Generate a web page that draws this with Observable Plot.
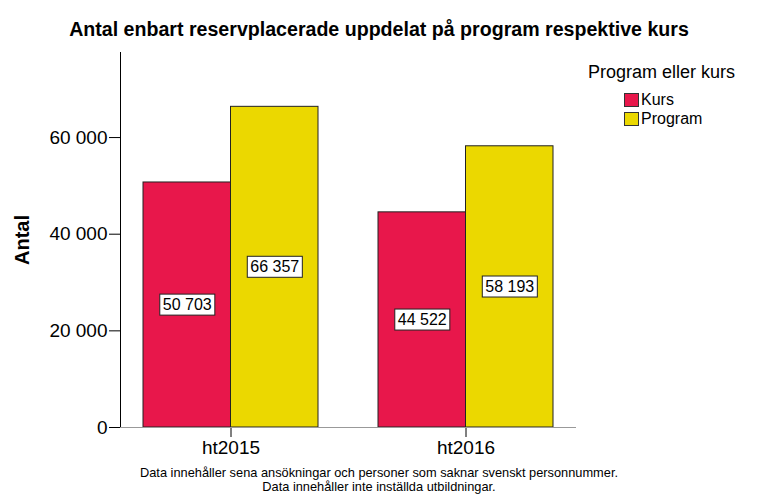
<!DOCTYPE html>
<html>
<head>
<meta charset="utf-8">
<script src="https://cdn.jsdelivr.net/npm/d3@7"></script>
<script src="https://cdn.jsdelivr.net/npm/@observablehq/plot@0.6"></script>
<style>
  body { margin: 0; background: #fff; font-family: "Liberation Sans", Arial, sans-serif; }
  #wrap { position: relative; width: 758px; height: 500px; overflow: hidden; }
  #title { position: absolute; left: 0; width: 758px; top: 18px; text-align: center; font-weight: bold; font-size: 19.6px; color: #000; white-space: nowrap; }
  #legend { position: absolute; left: 588px; top: 62px; color: #000; }
  #legend .lt { font-size: 18px; margin-bottom: 7px; white-space: nowrap; }
  #legend .item { display: flex; align-items: center; height: 19px; margin-left: 36px; font-size: 16px; }
  #legend .sw { width: 13px; height: 12px; border: 1px solid #333; margin-right: 2px; }
  #caption { position: absolute; left: 0; width: 758px; top: 466px; text-align: center; font-size: 12.8px; line-height: 14px; color: #000; }
  #chart { position: absolute; left: 0; top: 0; }
</style>
</head>
<body>
<div id="wrap">
  <div id="title"></div>
  <div id="chart"></div>
  <div id="legend"></div>
  <div id="caption"></div>
</div>
<script>
const titleText = "Antal enbart reservplacerade uppdelat på program respektive kurs";
const periods = ["ht2015", "ht2016"];
const series = ["Kurs", "Program"];
const kursValues = [50703, 44522];
const programValues = [66357, 58193];
const colors = ["#e8174b", "#ebd800"];
const yTicks = [0, 20000, 40000, 60000];
const yLabel = "Antal";
const legendTitle = "Program eller kurs";
const captionLines = [
  "Data innehåller sena ansökningar och personer som saknar svenskt personnummer.",
  "Data innehåller inte inställda utbildningar."
];

const fmt = d => d3.format(",")(d).replace(/,/g, " ");
const kurs = periods.map((p, i) => ({period: p, serie: series[0], value: kursValues[i]}));
const program = periods.map((p, i) => ({period: p, serie: series[1], value: programValues[i]}));

document.getElementById("title").textContent = titleText;
document.getElementById("caption").innerHTML = captionLines.join("<br>");
const leg = document.getElementById("legend");
leg.innerHTML = `<div class="lt">${legendTitle}</div>` +
  series.map((s, i) => `<div class="item"><div class="sw" style="background:${colors[i]}"></div>${s}</div>`).join("");

const half = 87.5;
const chart = Plot.plot({
  width: 758,
  height: 500,
  marginTop: 52,
  marginBottom: 73,
  marginLeft: 120,
  marginRight: 182,
  style: {fontFamily: "'Liberation Sans', Arial, sans-serif", background: "transparent", color: "#000"},
  x: {domain: periods, paddingInner: 0.255, paddingOuter: 0.096, label: null, tickSize: 10, tickPadding: 3},
  y: {domain: [0, 77600], ticks: yTicks, tickFormat: fmt, label: null, tickSize: 11, tickPadding: 2, line: true},
  marks: [
    Plot.barY(kurs, {x: "period", y: "value", fill: colors[0], stroke: "#222", strokeWidth: 1, insetRight: half}),
    Plot.barY(program, {x: "period", y: "value", fill: colors[1], stroke: "#222", strokeWidth: 1, insetLeft: half}),
    Plot.ruleY([0], {stroke: "#999"}),
    Plot.text(kurs, {x: "period", y: d => d.value / 2, text: d => fmt(d.value), dx: -half / 2, fontSize: 16, fill: "#000", className: "vlabel"}),
    Plot.text(program, {x: "period", y: d => d.value / 2, text: d => fmt(d.value), dx: half / 2, fontSize: 16, fill: "#000", className: "vlabel"}),
    Plot.text([yLabel], {frameAnchor: "left", dx: -98, rotate: -90, textAnchor: "middle", fontSize: 20, fontWeight: "bold", fill: "#000", text: d => d})
  ]
});
document.getElementById("chart").appendChild(chart);

// font sizes for axis tick labels
chart.querySelectorAll("g[aria-label='y-axis tick label'], g[aria-label='x-axis tick label']").forEach(g => g.setAttribute("font-size", 19));

// white boxes behind value labels
chart.querySelectorAll("g.vlabel text").forEach(t => {
  const b = t.getBBox();
  const r = document.createElementNS("http://www.w3.org/2000/svg", "rect");
  r.setAttribute("x", b.x - 3);
  r.setAttribute("y", b.y - 2);
  r.setAttribute("width", b.width + 6);
  r.setAttribute("height", b.height + 4);
  r.setAttribute("fill", "#fff");
  r.setAttribute("stroke", "#222");
  r.setAttribute("stroke-width", 1);
  const tr = t.getAttribute("transform");
  if (tr) r.setAttribute("transform", tr);
  t.parentNode.insertBefore(r, t);
});
</script>
</body>
</html>
